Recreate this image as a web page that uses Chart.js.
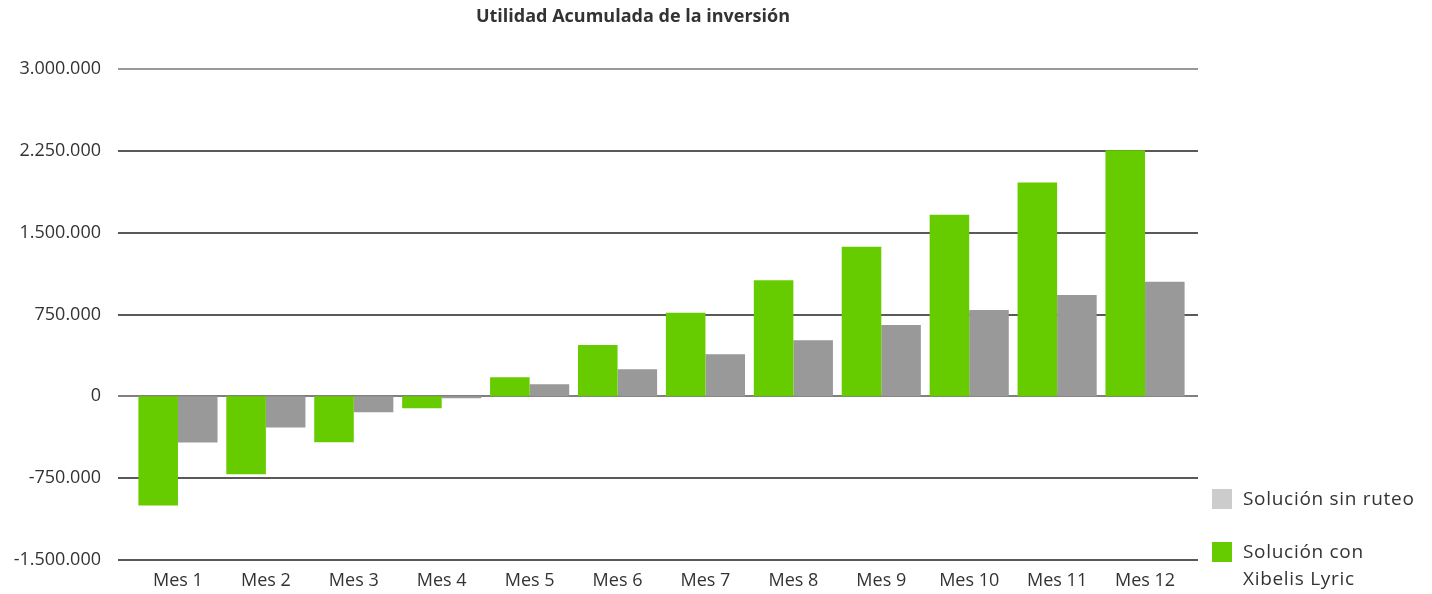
<!DOCTYPE html>
<html>
<head>
<meta charset="utf-8">
<script src="https://cdn.jsdelivr.net/npm/chart.js@4/dist/chart.umd.min.js"></script>
<style>
  body { margin: 0; background: #fff; font-family: "Open Sans", sans-serif; color: #333; }
  #wrap { position: relative; width: 1432px; height: 594px; }
  #chart-utilidad { position: absolute; left: 0; top: 0; }
  #title { position: absolute; top: 3px; left: 0; width: 1266px; text-align: center; font-weight: bold; font-size: 18px; color: #333; }
  .legend-item { position: absolute; left: 1212px; font-size: 19px; line-height: 27px; letter-spacing: 0.7px; color: #333; }
  .legend-item span.box { position: absolute; left: 0; top: 4px; width: 20px; height: 20px; }
  .legend-item span.txt { display: block; margin-left: 31px; white-space: nowrap; }
</style>
</head>
<body>
<div id="wrap">
  <canvas id="chart-utilidad" width="1432" height="594"></canvas>
  <div id="title">Utilidad Acumulada de la inversión</div>
  <div class="legend-item" style="top:485px"><span class="box" style="background:#cccccc"></span><span class="txt">Solución sin ruteo</span></div>
  <div class="legend-item" style="top:538px"><span class="box" style="background:#66cc00"></span><span class="txt">Solución con<br>Xibelis Lyric</span></div>
</div>
<script>
const meses = ["Mes 1", "Mes 2", "Mes 3", "Mes 4", "Mes 5", "Mes 6", "Mes 7", "Mes 8", "Mes 9", "Mes 10", "Mes 11", "Mes 12"];
const conXibelis = [-1000000, -715000, -420000, -110000, 175000, 470000, 765000, 1065000, 1370000, 1665000, 1960000, 2255000];
const sinRuteo = [-423000, -285000, -147000, -18000, 110000, 248000, 386000, 515000, 653000, 791000, 929000, 1050000];
const yTicks = [-1500000, -750000, 0, 750000, 1500000, 2250000, 3000000];

const ctx = document.getElementById("chart-utilidad").getContext('2d');

function formatMiles(v){
    return String(v).replace(/\B(?=(\d{3})+(?!\d))/g, ".");
}

// grid lines run a bit wider than the bar area
const gridPlugin = {
    id: 'fullGrid',
    beforeDatasetsDraw(chart){
        const y = chart.scales.y;
        const c = chart.ctx;
        c.save();
        yTicks.forEach(function (t){
            const py = Math.round(y.getPixelForValue(t));
            if (t === 0) {
                c.strokeStyle = '#808080'; c.lineWidth = 2;
            } else if (t === 3000000) {
                c.strokeStyle = '#777777'; c.lineWidth = 1.5;
            } else {
                c.strokeStyle = '#222222'; c.lineWidth = 1.3;
            }
            c.beginPath();
            c.moveTo(118, py);
            c.lineTo(1198, py);
            c.stroke();
        });
        c.restore();
    }
};

new Chart(ctx, {
    type: 'bar',
    data: {
        labels: meses,
        datasets: [{
            label: "Solución con Xibelis Lyric",
            data: conXibelis,
            backgroundColor: '#66cc00'
        }, {
            label: "Solución sin ruteo",
            data: sinRuteo,
            backgroundColor: '#999999'
        }]
    },
    options: {
        responsive: false,
        animation: false,
        layout: { padding: { top: 69, right: 243, left: 0, bottom: 0 } },
        plugins: {
            legend: { display: false },
            tooltip: { enabled: false }
        },
        datasets: { bar: { barPercentage: 1, categoryPercentage: 0.9 } },
        scales: {
            x: {
                grid: { display: false },
                border: { display: false },
                ticks: { color: '#333', font: { family: "Open Sans", size: 18 }, padding: 2, maxRotation: 0 },
                afterFit(scale){ scale.height = 34; }
            },
            y: {
                min: -1500000,
                max: 3000000,
                grid: { display: false },
                border: { display: false },
                afterBuildTicks(scale){ scale.ticks = yTicks.map(v => ({ value: v })); },
                ticks: {
                    color: '#333',
                    font: { family: "Open Sans", size: 18 },
                    padding: 25,
                    callback: v => formatMiles(v)
                },
                afterFit(scale){
                    scale.width = 134;
                    scale.paddingBottom = 0;
                }
            }
        }
    },
    plugins: [gridPlugin]
});
</script>
</body>
</html>
